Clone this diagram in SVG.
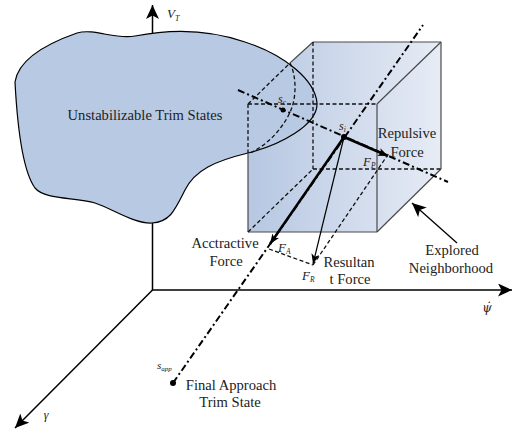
<svg xmlns="http://www.w3.org/2000/svg" width="513" height="434" viewBox="0 0 513 434">
<defs>
<linearGradient id="cubeGrad" gradientUnits="userSpaceOnUse" x1="248" y1="0" x2="441" y2="0">
<stop offset="0" stop-color="#b6c7e2"/>
<stop offset="1" stop-color="#e7ecf5"/>
</linearGradient>
<marker id="bigHead" viewBox="0 0 14 13" refX="14" refY="6.5" markerWidth="14" markerHeight="13" markerUnits="userSpaceOnUse" orient="auto">
<path d="M14,6.5 L0,0 L3.5,6.5 L0,13 Z" fill="#000"/>
</marker>
<marker id="smallHead" viewBox="0 0 10 8" refX="10" refY="4" markerWidth="10" markerHeight="8" markerUnits="userSpaceOnUse" orient="auto">
<path d="M10,4 L0,0 L2.5,4 L0,8 Z" fill="#000"/>
</marker>
<style>
.txt{font-family:"Liberation Serif","Times New Roman",serif;font-size:14.6px;fill:#222;text-anchor:middle}
.it{font-family:"Liberation Serif","Times New Roman",serif;font-style:italic;fill:#222}
.greek{font-family:"DejaVu Serif",serif;font-style:italic;fill:#222}
.edge{stroke:#4a4a4a;stroke-width:1.2;fill:none}
.hid{stroke:#111;stroke-width:1.3;fill:none;stroke-dasharray:4 2.5}
.dashdot{stroke:#000;stroke-width:2;fill:none;stroke-dasharray:7 3 2 3}
.axis{stroke:#000;stroke-width:1.5;fill:none}
</style>
</defs>

<g id="axes">
<line class="axis" x1="152.5" y1="290" x2="152.5" y2="5" marker-end="url(#bigHead)"/>
<line class="axis" x1="152" y1="290" x2="512" y2="290" marker-end="url(#bigHead)"/>
<line class="axis" x1="152.5" y1="290" x2="15" y2="428" marker-end="url(#bigHead)"/>
<text class="it" x="167" y="18" font-size="13">V<tspan font-size="8" dy="3">T</tspan></text>
<text class="greek" x="487" y="312" font-size="12" text-anchor="middle">ψ̇</text>
<text class="it" x="46" y="419" font-size="12" text-anchor="middle">γ</text>
</g>

<g id="cube-fill">
<polygon points="248,104 313,42 441,42 441,169 377,232 248,232" fill="url(#cubeGrad)"/>
</g>

<g id="unstabilizable">
<path d="M15,82 C18,62 40,46 77,33 C95,28 115,40 135,36 C165,30 205,28 245,42 C285,55 315,80 317,103 C318,125 280,145 248,153 C215,161 195,170 185,190 C175,210 170,222 152,223 C135,224 115,210 95,203 C75,197 45,200 35,188 C22,170 17,120 15,82 Z" fill="#b8c9e3" stroke="#000" stroke-width="1.2"/>
<path class="hid" d="M290,63 C296,75 297,95 291,110 C284,127 268,145 250,153"/>
<text class="txt" x="145" y="120">Unstabilizable Trim States</text>
</g>

<g id="explored-neighborhood">
<line class="edge" x1="313" y1="42" x2="441" y2="42"/>
<line class="edge" x1="441" y1="42" x2="441" y2="169"/>
<line class="edge" x1="377" y1="104" x2="441" y2="42"/>
<line class="edge" x1="377" y1="232" x2="441" y2="169"/>
<line class="edge" x1="377" y1="104" x2="377" y2="232"/>
<line class="edge" x1="248" y1="232" x2="377" y2="232"/>
<line class="edge" x1="248" y1="153" x2="248" y2="232"/>
<line class="edge" x1="290" y1="63" x2="313" y2="42"/>
<line class="hid" x1="248" y1="104" x2="290" y2="63"/>
<line class="hid" x1="248" y1="104" x2="248" y2="153"/>
<line class="hid" x1="248" y1="104" x2="377" y2="104"/>
<line class="hid" x1="313" y1="42" x2="313" y2="169"/>
<line class="hid" x1="313" y1="169" x2="441" y2="169"/>
<line class="hid" x1="248" y1="232" x2="313" y2="169"/>
<text class="txt" x="452" y="255">Explored</text>
<text class="txt" x="451" y="273">Neighborhood</text>
</g>

<g id="connectors">
<line class="dashdot" x1="173" y1="383" x2="423" y2="25"/>
<line class="dashdot" x1="238" y1="90" x2="448" y2="182"/>
<line x1="344" y1="137" x2="270" y2="244" stroke="#000" stroke-width="2.5" marker-end="url(#smallHead)"/>
<line x1="344" y1="137" x2="388" y2="156" stroke="#000" stroke-width="2.5" marker-end="url(#smallHead)"/>
<line x1="344" y1="137" x2="313" y2="264" stroke="#000" stroke-width="1.2" marker-end="url(#smallHead)"/>
<line class="hid" x1="269" y1="249" x2="313" y2="265"/>
<line class="hid" x1="313" y1="265" x2="389" y2="153"/>
<line x1="457" y1="243" x2="412" y2="203" stroke="#000" stroke-width="1.3" marker-end="url(#bigHead)"/>
</g>

<g id="states">
<circle cx="283" cy="110" r="2.5" fill="#000"/>
<circle cx="344" cy="137" r="3" fill="#000"/>
<circle cx="173" cy="383" r="3" fill="#000"/>
<text class="it" x="278" y="103" font-size="12">s<tspan font-size="7.5" dy="2">c</tspan></text>
<text class="it" x="339" y="130" font-size="12">s<tspan font-size="7.5" dy="2">i</tspan></text>
<text class="it" x="157" y="369" font-size="11">s<tspan font-size="7" dy="2">app</tspan></text>
<text class="txt" x="231" y="390">Final Approach</text>
<text class="txt" x="230" y="407">Trim State</text>
</g>

<g id="forces">
<text class="txt" x="407" y="138">Repulsive</text>
<text class="txt" x="407" y="157">Force</text>
<text class="it" x="363" y="166" font-size="13">F<tspan font-size="7.5" dy="2">P</tspan></text>
<text class="txt" x="225" y="248">Acctractive</text>
<text class="txt" x="226" y="266">Force</text>
<text class="it" x="278" y="252" font-size="13">F<tspan font-size="7.5" dy="2">A</tspan></text>
<text class="it" x="302" y="280" font-size="13">F<tspan font-size="7.5" dy="2">R</tspan></text>
<text class="txt" x="349" y="267">Resultan</text>
<text class="txt" x="350" y="284">t Force</text>
</g>
</svg>
